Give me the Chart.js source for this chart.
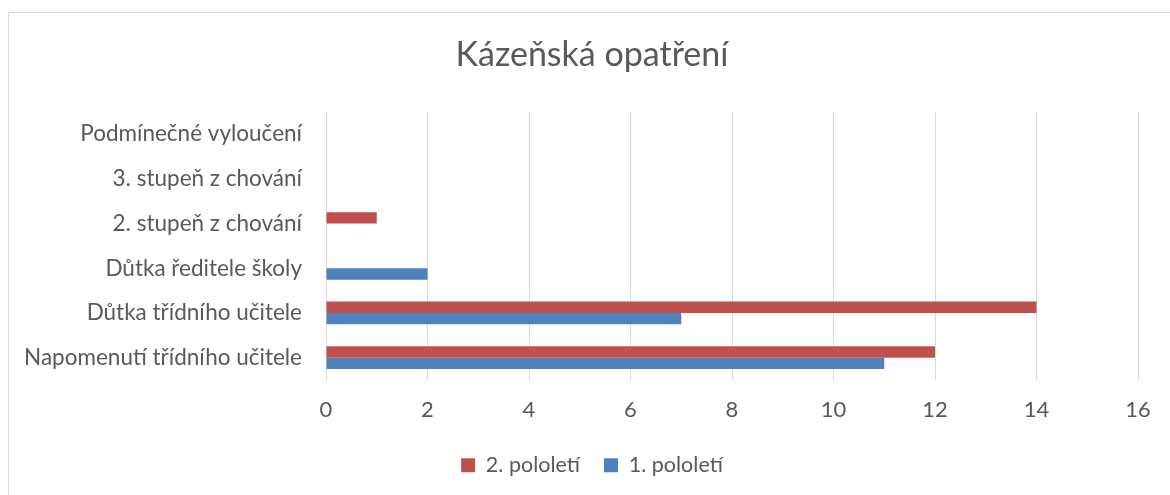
<!DOCTYPE html>
<html>
<head>
<meta charset="utf-8">
<script src="https://cdn.jsdelivr.net/npm/chart.js@4/dist/chart.umd.min.js"></script>
<style>
html,body{margin:0;padding:0;background:#fff;}
#wrap{width:1170px;height:495px;position:relative;}
</style>
</head>
<body>
<div id="wrap"><canvas id="c" width="1170" height="495"></canvas></div>
<script>
const categories = ["Podmínečné vyloučení", "3. stupeň z chování", "2. stupeň z chování", "Důtka ředitele školy", "Důtka třídního učitele", "Napomenutí třídního učitele"];
const seriesNames = ["2. pololetí", "1. pololetí"];
const secondHalf = [0, 0, 1, 0, 14, 12];
const firstHalf = [0, 0, 0, 2, 7, 11];
const xTicks = [0, 2, 4, 6, 8, 10, 12, 14, 16];
const chartTitle = "Kázeňská opatření";

const FONT = "Lato, 'Open Sans', sans-serif";
const TXT = "#595959";

const frame = {
  id: 'frame',
  beforeDraw(chart) {
    const ctx = chart.ctx;
    ctx.save();
    ctx.fillStyle = '#fff';
    ctx.fillRect(0, 0, chart.width, chart.height);
    ctx.strokeStyle = '#D9D9D9';
    ctx.lineWidth = 1;
    ctx.beginPath();
    ctx.moveTo(8.5, chart.height);
    ctx.lineTo(8.5, 12.5);
    ctx.lineTo(chart.width, 12.5);
    ctx.stroke();
    ctx.restore();
  }
};

new Chart(document.getElementById('c'), {
  type: 'bar',
  data: {
    labels: categories,
    datasets: [
      { label: seriesNames[0], data: secondHalf, backgroundColor: '#C0504D', borderWidth: 0 },
      { label: seriesNames[1], data: firstHalf, backgroundColor: '#4F81BD', borderWidth: 0 }
    ]
  },
  options: {
    indexAxis: 'y',
    responsive: false,
    animation: false,
    devicePixelRatio: 1,
    categoryPercentage: 0.51,
    barPercentage: 1.0,
    layout: { padding: { left: 14, right: 0, top: 0, bottom: 9 } },
    plugins: {
      title: {
        display: true,
        text: chartTitle,
        color: TXT,
        font: { family: FONT, size: 34, weight: 'normal', lineHeight: 1.2 },
        padding: { top: 35, bottom: 36 }
      },
      legend: {
        position: 'bottom',
        labels: {
          color: TXT,
          font: { family: FONT, size: 21.5 },
          boxWidth: 14,
          boxHeight: 14,
          padding: 24
        }
      },
      tooltip: { enabled: false }
    },
    scales: {
      x: {
        min: 0,
        max: 16,
        afterBuildTicks(s) { s.ticks = xTicks.map(v => ({ value: v })); },
        afterFit(s) { s.height = 50.5; },
        grid: { color: '#D9D9D9', lineWidth: 1, drawTicks: false },
        border: { display: false },
        ticks: { color: TXT, font: { family: FONT, size: 22 }, padding: 17 }
      },
      y: {
        afterFit(s) { s.width = 312; },
        grid: { display: false },
        border: { display: false },
        ticks: { color: TXT, font: { family: FONT, size: 22.5 }, padding: 16 }
      },
      yR: {
        type: 'linear',
        position: 'right',
        afterFit(s) { s.width = 32; },
        grid: { display: false },
        border: { display: false },
        ticks: { display: false }
      }
    }
  },
  plugins: [frame]
});
</script>
</body>
</html>
